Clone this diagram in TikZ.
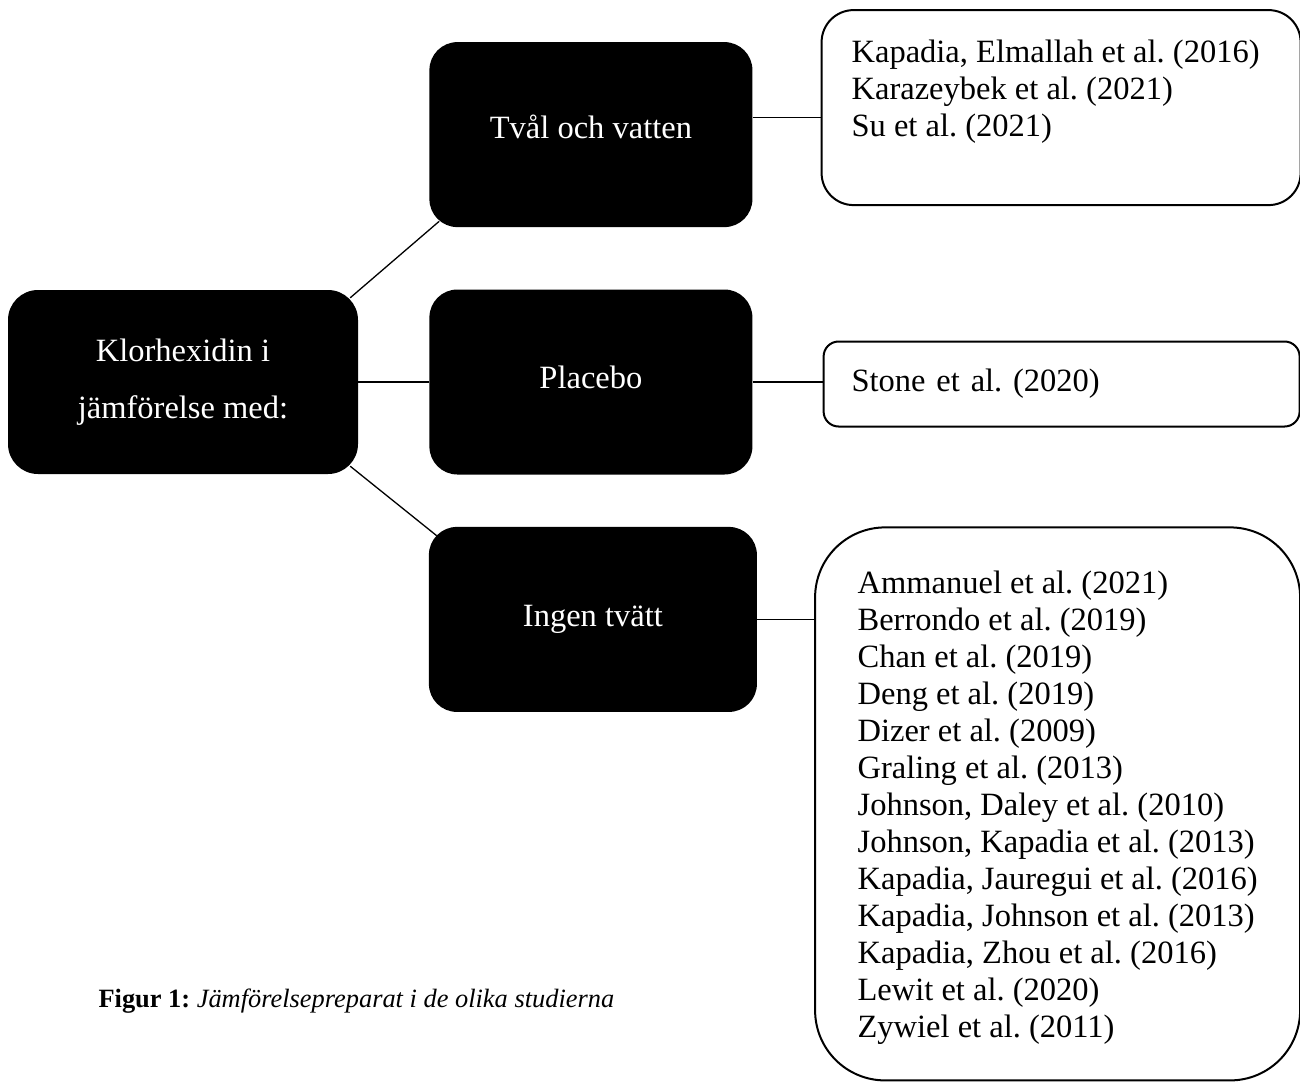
\documentclass[tikz,border=0pt]{standalone}
\usepackage{fontspec}
\setmainfont{Liberation Serif}
\frenchspacing
\usetikzlibrary{positioning}
\tikzset{
 catbox/.style={
 rectangle,
 rounded corners=28pt,
 fill=black,
 text=white,
 align=center,
 minimum width=323pt,
 minimum height=185pt,
 font=\fontsize{32.5pt}{37pt}\selectfont
 },
 refbox/.style={
 rectangle,
 draw=black,
 line width=2pt,
 fill=white,
 inner ysep=0pt,
 font=\fontsize{32.5pt}{37pt}\selectfont
 },
 link/.style={draw=black, line width=1.3pt}
}

\begin{document}
\begin{tikzpicture}[x=1pt, y=1pt]
 \useasboundingbox (0,0) rectangle (1300,-1082);

 \node[catbox, minimum width=350pt, minimum height=184pt, rounded corners=30pt,
 font=\fontsize{32.5pt}{57pt}\selectfont] (root) at (183,-382) {Klorhexidin i\\jämförelse med:};
 \node[catbox, right=71pt of root, text depth=10pt] (placebo) {Placebo};
 \node[catbox, above=62pt of placebo, text depth=16pt] (tval) {Tvål och vatten};
 \node[catbox, below=52pt of placebo, xshift=2pt, minimum width=328pt] (ingen) {Ingen tvätt};

 \node[refbox, right=68pt of tval, yshift=27pt, rounded corners=32pt, inner xsep=30pt, inner ysep=30pt] (refsoap)
 {\parbox[t][135pt][t]{419pt}{\raggedright
 Kapadia, Elmallah et al. (2016)\\
 Karazeybek et al. (2021)\\
 Su et al. (2021)}};
 \node[refbox, right=70pt of placebo, yshift=-2pt, rounded corners=15pt, inner xsep=28pt,
 text width=420pt, align=left, minimum height=85pt] (refplac) {Stone et al. (2020)};
 \node[refbox, right=57pt of ingen, yshift=-184.5pt, rounded corners=70pt, inner xsep=42.5pt, inner ysep=44pt] (refnone)
 {\parbox[t][465pt][t]{400pt}{\raggedright
 Ammanuel et al. (2021)\\
 Berrondo et al. (2019)\\
 Chan et al. (2019)\\
 Deng et al. (2019)\\
 Dizer et al. (2009)\\
 Graling et al. (2013)\\
 Johnson, Daley et al. (2010)\\
 Johnson, Kapadia et al. (2013)\\
 Kapadia, Jauregui et al. (2016)\\
 Kapadia, Johnson et al. (2013)\\
 Kapadia, Zhou et al. (2016)\\
 Lewit et al. (2020)\\
 Zywiel et al. (2011)}};

 \node[anchor=base west, font=\fontsize{26.4pt}{30pt}\selectfont] (caption) at (95,-1007)
 {\textbf{Figur 1:} \textit{Jämförelsepreparat i de olika studierna}};

 % grenar
 \draw[link] ([xshift=-8pt,yshift=-8pt]root.north east) -- ([xshift=10pt,yshift=6pt]tval.south west);
 \draw[link] (root.east) -- (placebo.west);
 \draw[link] ([xshift=-8pt,yshift=8pt]root.south east) -- ([xshift=8pt,yshift=-9pt]ingen.north west);
 \draw[link] (tval.6) -- (tval.6 -| refsoap.west);
 \draw[link] (placebo.east) -- (placebo.east -| refplac.west);
 \draw[link] (ingen.east) -- (ingen.east -| refnone.west);
\end{tikzpicture}
\end{document}
